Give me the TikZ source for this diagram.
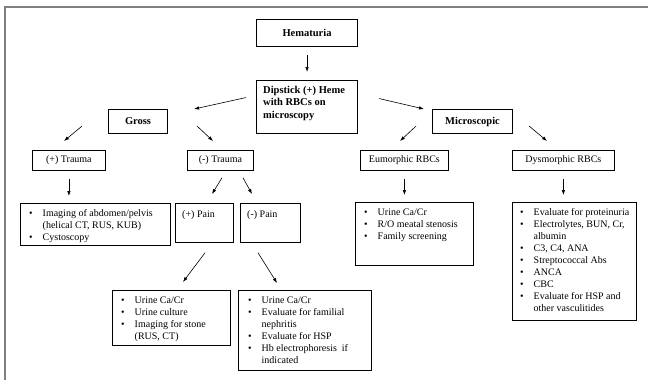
\documentclass[tikz,border=0pt]{standalone}
\usepackage{fontspec}
\setmainfont{Liberation Serif}
\usetikzlibrary{arrows.meta}
\begin{document}
\begin{tikzpicture}[x=1pt,y=-1pt,
  hbox/.style={draw, line width=1.1pt, inner sep=0pt, anchor=north west},
  lbox/.style={draw, line width=0.8pt, inner sep=0pt, anchor=north west},
  arr/.style={-{Latex[length=5pt,width=3.5pt]}, line width=0.6pt},
  htxt/.style={font=\bfseries\fontsize{10.5}{12.5}\selectfont},
  ntxt/.style={font=\fontsize{10}{12}\selectfont},
  ltxt/.style={anchor=north west, inner sep=0pt, align=left, font=\fontsize{10}{12}\selectfont}]
\useasboundingbox (0,0) rectangle (648,380);
\draw[gray, line width=1.2pt] (5,380) -- (5,7) -- (648,7);

% top level
\node[hbox, minimum width=101pt, minimum height=27pt, htxt] (hem) at (256,19) {Hematuria};
\node[hbox, minimum width=101pt, minimum height=53pt] (dip) at (256,80) {};
\node[anchor=north west, inner sep=0pt, align=left, htxt] (diptxt) at (263,86) {Dipstick (+) Heme\\with RBCs on\\microscopy};
\node[hbox, minimum width=59pt, minimum height=24pt, htxt] (gross) at (108,109) {Gross};
\node[hbox, minimum width=80pt, minimum height=24pt, htxt] (micro) at (432,109) {Microscopic};

% second level
\node[lbox, minimum width=73pt, minimum height=20pt, ntxt] (ptr) at (32,150) {(+) Trauma};
\node[lbox, minimum width=66pt, minimum height=20pt, ntxt] (ntr) at (187,150) {(-) Trauma};
\node[lbox, minimum width=88pt, minimum height=20pt, ntxt] (eum) at (360,150) {Eumorphic RBCs};
\node[lbox, minimum width=102pt, minimum height=20pt, ntxt] (dys) at (512,150) {Dysmorphic RBCs};

% pain boxes
\node[lbox, minimum width=58pt, minimum height=39pt] (pp) at (175,203) {};
\node[ltxt] (pptxt) at (182,210) {(+) Pain};
\node[lbox, minimum width=60pt, minimum height=39pt] (np) at (240,203) {};
\node[ltxt] (nptxt) at (247,210) {(-) Pain};

% result boxes
\node[lbox, minimum width=150pt, minimum height=42pt] (r1) at (20,203) {};
\node[ltxt] (r1t) at (29,208) {\begin{tabular}{@{}l@{\hspace{10pt}}l@{}}\textbullet & Imaging of abdomen/pelvis\\ & (helical CT, RUS, KUB)\\ \textbullet & Cystoscopy\end{tabular}};

\node[lbox, minimum width=118pt, minimum height=55pt] (r2) at (112,290) {};
\node[ltxt] (r2t) at (121,295) {\begin{tabular}{@{}l@{\hspace{10pt}}l@{}}\textbullet & Urine Ca/Cr\\ \textbullet & Urine culture\\ \textbullet & Imaging for stone\\ & (RUS, CT)\end{tabular}};

\node[lbox, minimum width=133pt, minimum height=80pt] (r3) at (238,290) {};
\node[ltxt] (r3t) at (248,295) {\begin{tabular}{@{}l@{\hspace{10pt}}l@{}}\textbullet & Urine Ca/Cr\\ \textbullet & Evaluate for familial\\ & nephritis\\ \textbullet & Evaluate for HSP\\ \textbullet & Hb electrophoresis\ \ if\\ & indicated\end{tabular}};

\node[lbox, minimum width=118pt, minimum height=63pt] (r4) at (355,202) {};
\node[ltxt] (r4t) at (364,207) {\begin{tabular}{@{}l@{\hspace{10pt}}l@{}}\textbullet & Urine Ca/Cr\\ \textbullet & R/O meatal stenosis\\ \textbullet & Family screening\end{tabular}};

\node[lbox, minimum width=124pt, minimum height=118pt] (r5) at (512,202) {};
\node[ltxt] (r5t) at (520,207) {\begin{tabular}{@{}l@{\hspace{10pt}}l@{}}\textbullet & Evaluate for proteinuria\\ \textbullet & Electrolytes, BUN, Cr,\\ & albumin\\ \textbullet & C3, C4, ANA\\ \textbullet & Streptococcal Abs\\ \textbullet & ANCA\\ \textbullet & CBC\\ \textbullet & Evaluate for HSP and\\ & other vasculitides\end{tabular}};

% arrows
\draw[arr] ([shift={(0,8)}]hem.south) -- ([shift={(0,-8)}]dip.north);
\draw[arr] ([shift={(-10,-9.5)}]dip.west) -- ([shift={(26,0)}]gross.north east);
\draw[arr] ([shift={(21,-8.5)}]dip.east) -- ([shift={(-8,0)}]micro.north west);
\draw[arr] ([shift={(-26,-8)}]gross.south west) -- ([shift={(32,-9)}]ptr.north west);
\draw[arr] ([shift={(29,-8)}]gross.south east) -- ([shift={(26,-9)}]ntr.north west);
\draw[arr] ([shift={(-16,-8)}]micro.south west) -- ([shift={(40,-9)}]eum.north west);
\draw[arr] ([shift={(16,-8)}]micro.south east) -- ([shift={(35,-9)}]dys.north west);
\draw[arr] ([shift={(0,8)}]ptr.south) -- ([shift={(0,-7)}]ptr.south |- r1.north);
\draw[arr] ([shift={(35,7)}]ntr.south west) -- ([shift={(37,-9)}]pp.north west);
\draw[arr] ([shift={(56,7)}]ntr.south west) -- ([shift={(12,-9)}]np.north west);
\draw[arr] ([shift={(0,8)}]eum.south) -- ([shift={(0,-7)}]eum.south |- r4.north);
\draw[arr] ([shift={(0,8)}]dys.south) -- ([shift={(0,-7)}]dys.south |- r5.north);
\draw[arr] ([shift={(30,10)}]pp.south west) -- ([shift={(71,-8)}]r2.north west);
\draw[arr] ([shift={(18,10)}]np.south west) -- ([shift={(39,-7)}]r3.north west);
\end{tikzpicture}
\end{document}
